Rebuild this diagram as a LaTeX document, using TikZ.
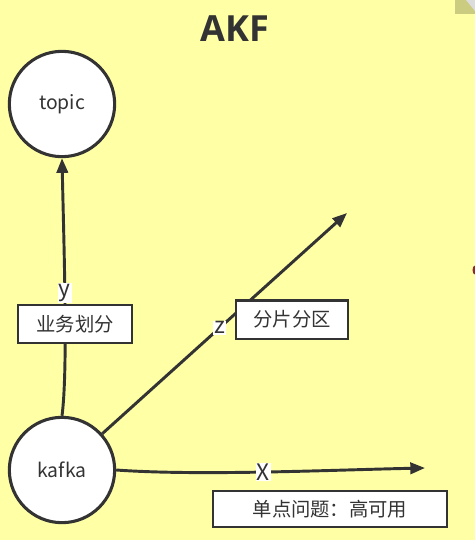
\documentclass[tikz,border=0pt]{standalone}
\usepackage{fontspec}
\setmainfont{Noto Sans CJK SC}
\newfontfamily\titlefont{Open Sans}
\usetikzlibrary{arrows.meta}
\definecolor{bgyellow}{HTML}{FFFFA6}
\definecolor{ink}{HTML}{333333}
\definecolor{foldolive}{HTML}{CCCC80}
\definecolor{foldgrey}{HTML}{DCDCDC}
\definecolor{dotred}{HTML}{8B2A2A}
\tikzset{
  circ/.style={circle,draw=ink,line width=2.3pt,fill=white,minimum size=79pt,inner sep=0pt,text=ink,font=\fontsize{14.5pt}{17pt}\selectfont},
  tagbox/.style={rectangle,draw=ink,line width=2pt,fill=white,inner sep=0pt,text=ink,font=\fontsize{14.5pt}{17pt}\selectfont},
  edge/.style={draw=ink,line width=2.2pt,-{Triangle[length=11pt,width=8.5pt]}},
  elabel/.style={fill=white,inner sep=0.8pt,text=ink,font=\fontsize{17pt}{19pt}\selectfont},
}
\begin{document}
\begin{tikzpicture}[x=0.75pt,y=-0.75pt]
\fill[bgyellow] (0,0) rectangle (475,540);
\useasboundingbox (0,0) rectangle (475,540);
% folded corner
\fill[foldolive] (455,0) rectangle (475,14);
\fill[foldgrey] (466,0) -- (475,0) -- (475,11) -- cycle;
% red dot at edge
\fill[dotred] (475,270) ellipse (2.5 and 4.5);
% title
\node[text=ink,font=\titlefont\bfseries\fontsize{27pt}{30pt}\selectfont] (title) at (235,29) {AKF};
% nodes
\node[circ] (topic) at (62,104) {topic};
\node[circ] (kafka) at (62,470) {kafka};
\coordinate (zend) at (347,213);
\coordinate (xend) at (425,468);
% connectors
\draw[edge] (kafka.north) .. controls (68,370) and (64,250) .. (topic.south)
  node[elabel,pos=0.54] (ylab) {y};
\draw[edge] (kafka) -- (zend) node[elabel,pos=0.48] (zlab) {z};
\draw[edge] (kafka.east) .. controls (200,476) and (330,470) .. (xend)
  node[elabel,pos=0.49] (xlab) {X};
% boxes drawn over the connectors
\node[tagbox,minimum width=85.5pt,minimum height=28.5pt] (biz) at (75,324) {业务划分};
\node[tagbox,minimum width=84pt,minimum height=29pt] (shard) at (292,319.5) {分片分区};
\node[tagbox,minimum width=175.5pt,minimum height=27pt] (ha) at (330,509) {单点问题：高可用};
\end{tikzpicture}
\end{document}
